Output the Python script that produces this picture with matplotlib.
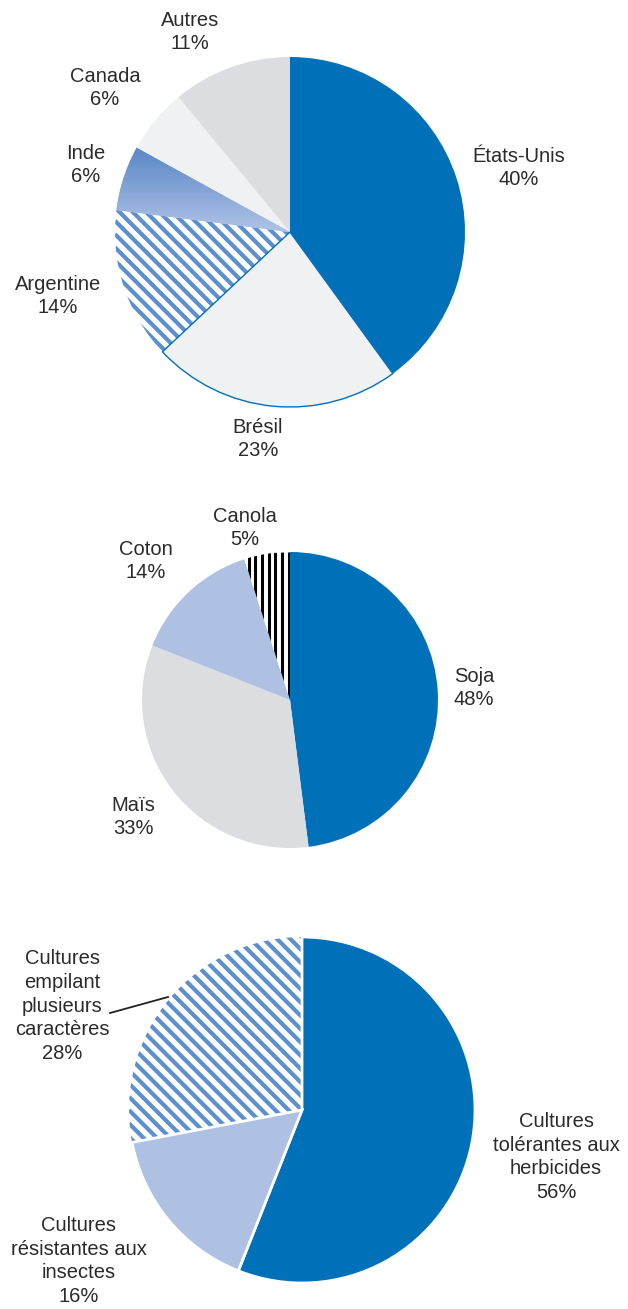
import numpy as np
import matplotlib
matplotlib.use("Agg")
import matplotlib.pyplot as plt
from matplotlib.colors import LinearSegmentedColormap

plt.rcParams['font.family'] = ['Liberation Sans', 'DejaVu Sans']

# --- donnees ---
pays = ['États-Unis', 'Brésil', 'Argentine', 'Inde', 'Canada', 'Autres']
pays_pct = [40, 23, 14, 6, 6, 11]

cultures = ['Soja', 'Maïs', 'Coton', 'Canola']
cultures_pct = [48, 33, 14, 5]

caracteres = ['Cultures\ntolérantes aux\nherbicides',
              'Cultures\nrésistantes aux\ninsectes',
              'Cultures\nempilant\nplusieurs\ncaractères']
caracteres_pct = [56, 16, 28]

BLEU = '#0070b8'
GRIS = '#dcdde0'
GRIS_CLAIR = '#f0f1f3'
BLEU_CLAIR = '#aec1e3'
RAYURE = '#5b8fd0'
TEXTE = '#2b2b2b'

W, H = 628, 1309
fig = plt.figure(figsize=(W / 100, H / 100), dpi=100)
ax = fig.add_axes([0, 0, 1, 1])


def y(py):
    # coordonnees pixel (haut = 0) -> coordonnees axe
    return H - py


def etiquette(txt, px, py):
    ax.text(px, y(py), txt, ha='center', va='center', fontsize=14.5,
            color=TEXTE, linespacing=1.33)


def rayures(wedge, couleur, pas, lw, vertical=False):
    # rayures dessinees a la main, decoupees par la part
    cx, cy = wedge.center
    r = wedge.r
    for c in np.arange(-2 * r, 2 * r, pas):
        if vertical:
            xs, ys = [cx + c, cx + c], [cy - r, cy + r]
        else:
            xs = [cx - r, cx + r]
            ys = [cy + c + r, cy + c - r]
        ln, = ax.plot(xs, ys, color=couleur, lw=lw, solid_capstyle='butt',
                      zorder=wedge.get_zorder() + 0.1)
        ln.set_clip_path(wedge)


# ---- camembert 1 : pays ----
w1, _ = ax.pie(pays_pct, center=(290, y(232)), radius=175, startangle=90,
               counterclock=False,
               colors=[BLEU, GRIS_CLAIR, 'white', BLEU_CLAIR, GRIS_CLAIR, GRIS],
               wedgeprops=dict(linewidth=0))
rayures(w1[2], RAYURE, 13.3, 3.0)
w1[1].set_edgecolor(BLEU)
w1[1].set_linewidth(1.0)
w1[1].set_zorder(3)
# Inde : degrade vertical
inde = w1[3]
bb = inde.get_path().get_extents(inde.get_transform())
cmap = LinearSegmentedColormap.from_list('inde', ['#5886c6', '#b0c3e6'])
grad = np.linspace(0, 1, 256).reshape(-1, 1)
inv = ax.transData.inverted()
(x0, y0), (x1, y1) = inv.transform([[bb.x0, bb.y0], [bb.x1, bb.y1]])
im = ax.imshow(grad, cmap=cmap, aspect='auto', extent=[x0, x1, y0, y1],
               origin='upper', zorder=2)
im.set_clip_path(inde)

pos1 = [(519, 168), (258, 439), (58, 296), (86, 165), (105, 88), (190, 32)]
for nom, p, (px, py) in zip(pays, pays_pct, pos1):
    etiquette(f'{nom}\n{p}%', px, py)

# ---- camembert 2 : cultures ----
w2, _ = ax.pie(cultures_pct, center=(290, y(700)), radius=148, startangle=90,
               counterclock=False, colors=[BLEU, GRIS, BLEU_CLAIR, 'white'],
               wedgeprops=dict(linewidth=0))
rayures(w2[3], 'black', 6.7, 2.2, vertical=True)
pos2 = [(474, 688), (133, 817), (146, 561), (245, 528)]
for nom, p, (px, py) in zip(cultures, cultures_pct, pos2):
    etiquette(f'{nom}\n{p}%', px, py)

# ---- camembert 3 : caracteres ----
w3, _ = ax.pie(caracteres_pct, center=(302, y(1110)), radius=173, startangle=90,
               counterclock=False, colors=[BLEU, BLEU_CLAIR, 'white'],
               wedgeprops=dict(linewidth=0))
rayures(w3[2], RAYURE, 13.3, 3.0)
for w in w3[:2]:
    w.set_edgecolor('white')
    w.set_linewidth(2)
    w.set_zorder(3)
pos3 = [(556, 1157), (79, 1261), (62, 1006)]
for nom, p, (px, py) in zip(caracteres, caracteres_pct, pos3):
    etiquette(f'{nom}\n{p}%', px, py)
ax.plot([110, 168], [y(1013), y(997)], color='#222222', lw=1.3)

ax.set_xlim(0, W)
ax.set_ylim(0, H)
ax.set_aspect('equal')
ax.axis('off')

fig.savefig('out.png', dpi=100, facecolor='white')
